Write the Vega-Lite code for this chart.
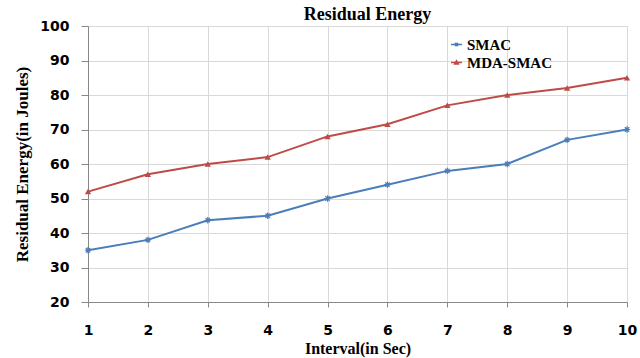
{
  "$schema": "https://vega.github.io/schema/vega-lite/v6.json",
  "autosize": "none",
  "width": 539,
  "height": 276,
  "padding": {"left": 88, "top": 26, "right": 13, "bottom": 56},
  "background": "white",
  "title": {"text": "Residual Energy", "font": "Liberation Serif", "fontSize": 18, "fontWeight": "bold", "color": "#000", "offset": -5, "dx": 10},
  "data": {"values": [
    {"x": 1, "s": "SMAC", "y": 35}, {"x": 2, "s": "SMAC", "y": 38}, {"x": 3, "s": "SMAC", "y": 43.7}, {"x": 4, "s": "SMAC", "y": 45}, {"x": 5, "s": "SMAC", "y": 50}, {"x": 6, "s": "SMAC", "y": 54}, {"x": 7, "s": "SMAC", "y": 58}, {"x": 8, "s": "SMAC", "y": 60}, {"x": 9, "s": "SMAC", "y": 67}, {"x": 10, "s": "SMAC", "y": 70},
    {"x": 1, "s": "MDA-SMAC", "y": 52}, {"x": 2, "s": "MDA-SMAC", "y": 57}, {"x": 3, "s": "MDA-SMAC", "y": 60}, {"x": 4, "s": "MDA-SMAC", "y": 62}, {"x": 5, "s": "MDA-SMAC", "y": 68}, {"x": 6, "s": "MDA-SMAC", "y": 71.5}, {"x": 7, "s": "MDA-SMAC", "y": 77}, {"x": 8, "s": "MDA-SMAC", "y": 80}, {"x": 9, "s": "MDA-SMAC", "y": 82}, {"x": 10, "s": "MDA-SMAC", "y": 85}
  ]},
  "encoding": {
    "x": {"field": "x", "type": "quantitative", "scale": {"domain": [1, 10], "nice": false},
      "axis": {"title": "Interval(in Sec)", "values": [1,2,3,4,5,6,7,8,9,10], "format": "d", "labelFont": "DejaVu Sans", "labelFontWeight": "bold", "labelFontSize": 14, "labelColor": "#000", "labelPadding": 16, "titleFont": "Liberation Serif", "titleFontSize": 16, "titleFontWeight": "bold", "titleColor": "#000", "titlePadding": 3, "domainColor": "#888", "tickColor": "#888", "tickSize": 5, "gridColor": "#d9d9d9", "labelFlush": false}},
    "y": {"field": "y", "type": "quantitative", "scale": {"domain": [20, 100], "nice": false},
      "axis": {"title": "Residual Energy(in Joules)", "values": [20,30,40,50,60,70,80,90,100], "labelFont": "DejaVu Sans", "labelFontWeight": "bold", "labelFontSize": 14, "labelColor": "#000", "labelPadding": 12, "titleFont": "Liberation Serif", "titleFontSize": 17, "titleFontWeight": "bold", "titleColor": "#000", "titlePadding": 8, "domainColor": "#888", "tickColor": "#888", "tickSize": 7, "gridColor": "#d9d9d9"}},
    "color": {"field": "s", "type": "nominal", "sort": ["SMAC", "MDA-SMAC"], "scale": {"domain": ["SMAC", "MDA-SMAC"], "range": ["#4a7ebb", "#be4b48"]},
      "legend": {"title": null, "orient": "none", "legendX": 361, "legendY": 11, "labelFont": "Liberation Serif", "labelFontWeight": "bold", "labelFontSize": 15, "labelColor": "#000", "labelOffset": 3, "rowPadding": 2, "symbolSize": 121, "symbolStrokeWidth": 1.5,
        "encode": {"symbols": {"update": {
          "shape": {"signal": "datum.value === 'SMAC' ? 'M-1,0L1,0M0,-0.33L0,0.33M-0.28,-0.28L0.28,0.28M-0.28,0.28L0.28,-0.28' : 'M-1,0L1,0M-0.33,0.25L0,-0.33L0.33,0.25Z'"},
          "fill": {"signal": "scale('color', datum.value)"},
          "stroke": {"signal": "scale('color', datum.value)"},
          "fillOpacity": {"value": 1},
          "strokeWidth": {"value": 1.5}
        }}}}
    }
  },
  "layer": [
    {"mark": {"type": "line", "strokeWidth": 2}},
    {"transform": [{"filter": "datum.s === 'SMAC'"}],
      "mark": {"type": "point", "shape": "M-1,0L1,0M0,-1L0,1M-0.7,-0.7L0.7,0.7M-0.7,0.7L0.7,-0.7", "filled": false, "size": 40, "strokeWidth": 1.2, "opacity": 1}},
    {"transform": [{"filter": "datum.s === 'MDA-SMAC'"}],
      "mark": {"type": "point", "shape": "triangle-up", "filled": true, "size": 40, "opacity": 1}}
  ]
}
